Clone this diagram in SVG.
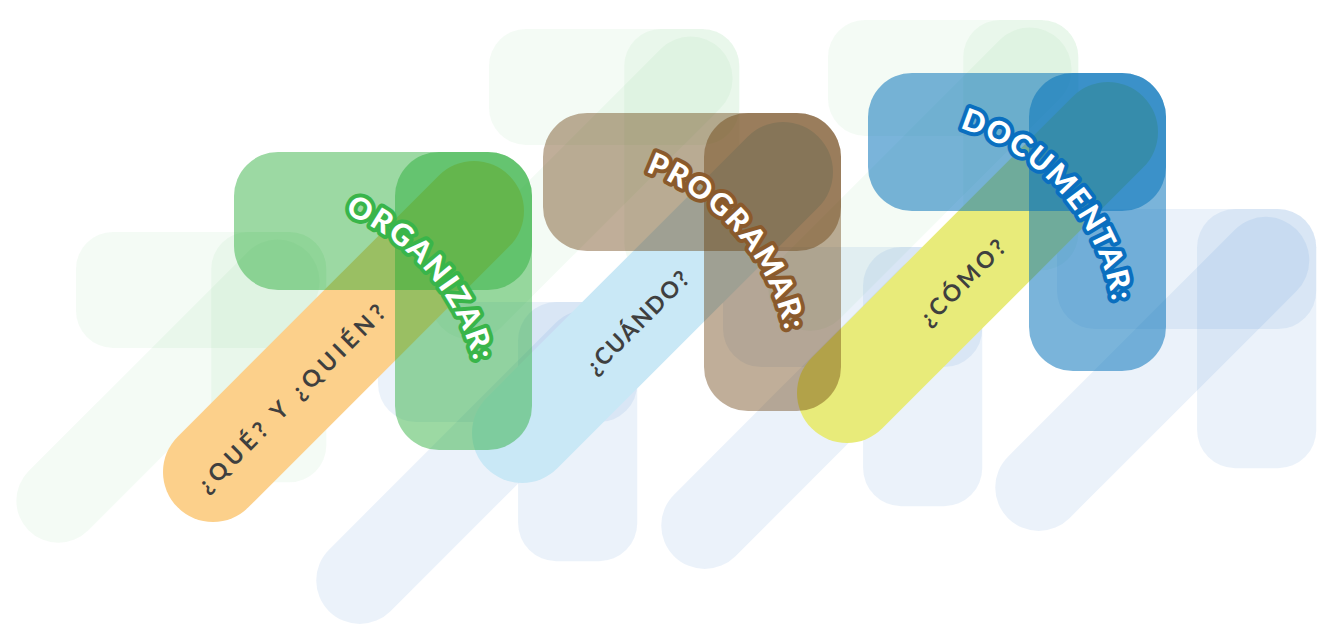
<svg xmlns="http://www.w3.org/2000/svg" xmlns:xlink="http://www.w3.org/1999/xlink" width="1328" height="630" viewBox="0 0 1328 630">
<style>
.bg{fill:#ffffff}
.fg{fill:#3cb44b;fill-opacity:.055;stroke:#3cb44b;stroke-opacity:.055}
.fb{fill:#3a7fcf;fill-opacity:.1;stroke:#3a7fcf;stroke-opacity:.1}
.band{fill:none;stroke-width:100;stroke-linecap:round}
.bar-g{fill:#23aa33;fill-opacity:.45}
.bar-b{fill:#613400;fill-opacity:.4}
.bar-u{fill:#0471b9;fill-opacity:.53}
.t{font-family:Lato,'Open Sans','Liberation Sans',sans-serif;font-weight:900;font-size:30px;fill:#ffffff;stroke-width:8;stroke-linejoin:round;paint-order:stroke;letter-spacing:2px}
.q{font-family:Lato,'Open Sans','Liberation Sans',sans-serif;font-size:23px;fill:#3f3f3f;font-weight:700}
</style>
<defs>
<g id="f7">
<line x1="-21" y1="320" x2="240" y2="59" stroke-width="100" stroke-linecap="round"/>
<rect x="0" y="0" width="298" height="138" rx="44" stroke="none"/>
<rect x="161" y="0" width="137" height="298" rx="44" stroke="none"/>
</g>
<path id="arc" d="M95,56 A220,220 0 0 1 244,227" fill="none"/>
</defs>
<rect class="bg" x="0" y="0" width="1328" height="630"/>
<g id="background">
<use xlink:href="#f7" class="fg" transform="translate(76,232) scale(0.84)"/>
<use xlink:href="#f7" class="fg" transform="translate(489,29) scale(0.84)"/>
<use xlink:href="#f7" class="fg" transform="translate(828,20) scale(0.84)"/>
<use xlink:href="#f7" class="fb" transform="translate(378,302) scale(0.87)"/>
<use xlink:href="#f7" class="fb" transform="translate(723,247) scale(0.87)"/>
<use xlink:href="#f7" class="fb" transform="translate(1057,209) scale(0.87)"/>
</g>
<g id="connectors">
<line class="band" stroke="#fcd08b" x1="213" y1="472" x2="474" y2="211"/>
<line class="band" stroke="#c9e8f6" x1="522" y1="433" x2="783" y2="172"/>
<line class="band" stroke="#e8eb7a" x1="847" y1="393" x2="1108" y2="132"/>
</g>
<g id="organizar" transform="translate(234,152)">
<rect class="bar-g" x="0" y="0" width="298" height="138" rx="44"/>
<rect class="bar-g" x="161" y="0" width="137" height="298" rx="44"/>
<text class="t" stroke="#39b54a"><textPath xlink:href="#arc" startOffset="50%" text-anchor="middle">ORGANIZAR:</textPath></text>
<text class="q" transform="translate(57.5,246.5) rotate(-45)" x="0" y="8" text-anchor="middle" textLength="255" lengthAdjust="spacing">¿QUÉ? Y ¿QUIÉN?</text>
</g>
<g id="programar" transform="translate(543,113)">
<rect class="bar-b" x="0" y="0" width="298" height="138" rx="44"/>
<rect class="bar-b" x="161" y="0" width="137" height="298" rx="44"/>
<text class="t" stroke="#8a5a2c"><textPath xlink:href="#arc" startOffset="50%" text-anchor="middle">PROGRAMAR:</textPath></text>
<text class="q" transform="translate(94.5,209.5) rotate(-45)" x="0" y="8" text-anchor="middle" textLength="135" lengthAdjust="spacing">¿CUÁNDO?</text>
</g>
<g id="documentar" transform="translate(868,73)">
<rect class="bar-u" x="0" y="0" width="298" height="138" rx="44"/>
<rect class="bar-u" x="161" y="0" width="137" height="298" rx="44"/>
<text class="t" stroke="#0a6fbf"><textPath xlink:href="#arc" startOffset="50%" text-anchor="middle">DOCUMENTAR:</textPath></text>
<text class="q" font-weight="600" transform="translate(94.5,209.5) rotate(-45)" x="0" y="8" text-anchor="middle" textLength="111" lengthAdjust="spacing">¿CÓMO?</text>
</g>
</svg>
